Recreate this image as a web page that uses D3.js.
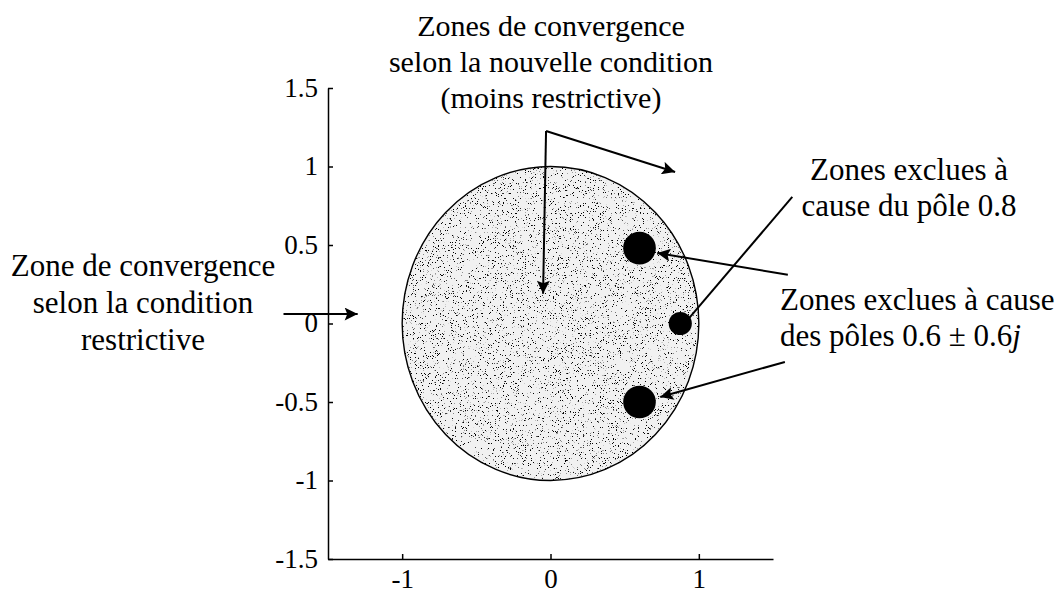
<!DOCTYPE html>
<html><head><meta charset="utf-8">
<script src="https://cdn.jsdelivr.net/npm/d3@7"></script>
<style>
body{margin:0;background:#fff}
svg{display:block}
text{font-family:"Liberation Serif","Times New Roman",serif;fill:#000}
</style>
</head><body>
<svg id="chart" width="1064" height="599"></svg>
<script>
// ---- data ----
const xTicks = [-1, 0, 1];
const yTicks = [1.5, 1, 0.5, 0, -0.5, -1, -1.5];
const xDomain = [-1.5, 1.5];
const yDomain = [-1.5, 1.5];
// convergence region (unit circle)
const regionX = [0];
const regionY = [0];
const regionR = [1];
// excluded zones around poles (x, y, radius in x-units)
const poleX = [0.6, 0.6, 0.875];
const poleY = [0.48, -0.5, 0];
const poleR = [0.11, 0.11, 0.078];
// annotation texts
const titleLines = ["Zones de convergence", "selon la nouvelle condition", "(moins restrictive)"];
const leftLines = ["Zone de convergence", "selon la condition", "restrictive"];
const pole08Lines = ["Zones exclues à", "cause du pôle 0.8"];
const pole06Lines = ["Zones exclues à cause", "des pôles 0.6 ± 0.6"];
// annotation arrows in data coordinates
const arrowX1 = [-0.03, -0.03, -1.80, 1.63, 1.60, 1.58];
const arrowY1 = [1.226, 1.226, 0.06, 0.806, 0.31, -0.245];
const arrowX2 = [-0.05, 0.84, -1.30, 0.93, 0.72, 0.74];
const arrowY2 = [0.19, 0.965, 0.06, 0.03, 0.449, -0.468];
const arrowHead = [true, true, true, false, true, true];

// ---- layout ----
const FONT = '"Liberation Serif","Times New Roman",serif';
const svg = d3.select("#chart");
const x = d3.scaleLinear().domain(xDomain).range([328, 773]);
const y = d3.scaleLinear().domain(yDomain).range([559, 88]);

const defs = svg.append("defs");
defs.append("marker").attr("id", "ah")
  .attr("viewBox", "0 0 10 10").attr("refX", 10).attr("refY", 5)
  .attr("markerWidth", 14).attr("markerHeight", 13).attr("markerUnits", "userSpaceOnUse")
  .attr("orient", "auto")
  .append("path").attr("d", "M0,0 L10,5 L0,10 L2,5 Z").attr("fill", "#000");

const f = defs.append("filter").attr("id", "stipple")
  .attr("x", 0).attr("y", 0).attr("width", "100%").attr("height", "100%");
f.append("feTurbulence").attr("type", "fractalNoise").attr("baseFrequency", 1.4)
  .attr("numOctaves", 2).attr("seed", 7).attr("result", "n");
f.append("feColorMatrix").attr("type", "matrix")
  .attr("values", "0 0 0 0 0  0 0 0 0 0  0 0 0 0 0  16 0 0 0 -10.4");

defs.append("clipPath").attr("id", "regionClip")
  .selectAll("ellipse").data(regionX).join("ellipse")
  .attr("cx", (d, i) => x(regionX[i])).attr("cy", (d, i) => y(regionY[i]))
  .attr("rx", (d, i) => x(regionR[i]) - x(0)).attr("ry", (d, i) => y(0) - y(regionR[i]));

// region
const reg = svg.append("g");
reg.selectAll("ellipse.fill").data(regionX).join("ellipse").attr("class", "fill")
  .attr("cx", (d, i) => x(regionX[i])).attr("cy", (d, i) => y(regionY[i]))
  .attr("rx", (d, i) => x(regionR[i]) - x(0)).attr("ry", (d, i) => y(0) - y(regionR[i]))
  .attr("fill", "#f1f1f1");
reg.append("rect")
  .attr("x", x(-1)).attr("y", y(1)).attr("width", x(1) - x(-1)).attr("height", y(-1) - y(1))
  .attr("clip-path", "url(#regionClip)").attr("filter", "url(#stipple)");
reg.selectAll("ellipse.edge").data(regionX).join("ellipse").attr("class", "edge")
  .attr("cx", (d, i) => x(regionX[i])).attr("cy", (d, i) => y(regionY[i]))
  .attr("rx", (d, i) => x(regionR[i]) - x(0)).attr("ry", (d, i) => y(0) - y(regionR[i]))
  .attr("fill", "none").attr("stroke", "#000").attr("stroke-width", 1.4);

// poles
svg.append("g").selectAll("circle").data(poleX).join("circle")
  .attr("cx", (d, i) => x(poleX[i])).attr("cy", (d, i) => y(poleY[i]))
  .attr("r", (d, i) => x(poleR[i]) - x(0)).attr("fill", "#000");

// axes
const ax = svg.append("g").attr("transform", `translate(0,${y(-1.5)})`)
  .call(d3.axisBottom(x).tickValues(xTicks).tickSizeInner(-5).tickSizeOuter(0).tickPadding(10).tickFormat(d => String(d)));
const ay = svg.append("g").attr("transform", `translate(${x(-1.5)},0)`)
  .call(d3.axisLeft(y).tickValues(yTicks).tickSizeInner(-5).tickSizeOuter(0).tickPadding(10).tickFormat(d => String(d)));
[ax, ay].forEach(g => {
  g.attr("font-family", null).attr("font-size", null);
  g.selectAll("path,line").attr("stroke", "#000").attr("stroke-width", 1.5);
  g.selectAll("text").style("font-family", FONT).style("font-size", "27px").attr("fill", "#000");
});
ax.selectAll("text").attr("dy", "0.71em");
ay.selectAll("text").attr("dy", "0.3em");

// arrows
svg.append("g").selectAll("line").data(arrowX1).join("line")
  .attr("x1", (d, i) => x(arrowX1[i])).attr("y1", (d, i) => y(arrowY1[i]))
  .attr("x2", (d, i) => x(arrowX2[i])).attr("y2", (d, i) => y(arrowY2[i]))
  .attr("stroke", "#000").attr("stroke-width", 2)
  .attr("marker-end", (d, i) => arrowHead[i] ? "url(#ah)" : null);

// texts
function block(lines, cx, y0, dy, anchor, size) {
  const g = svg.append("g");
  g.selectAll("text").data(lines).join("text")
    .attr("x", cx).attr("y", (d, i) => y0 + i * dy)
    .attr("text-anchor", anchor).style("font-family", FONT).style("font-size", size + "px")
    .text(d => d);
  return g;
}
block(titleLines, 551, 36, 36, "middle", 30);
block(leftLines, 143, 276, 37, "middle", 31);
block(pole08Lines, 909, 180, 36, "middle", 31);
const g6 = block(pole06Lines, 780, 310, 36, "start", 31);
g6.select("text:last-child").append("tspan").style("font-style", "italic").text("j");
</script>
</body></html>
